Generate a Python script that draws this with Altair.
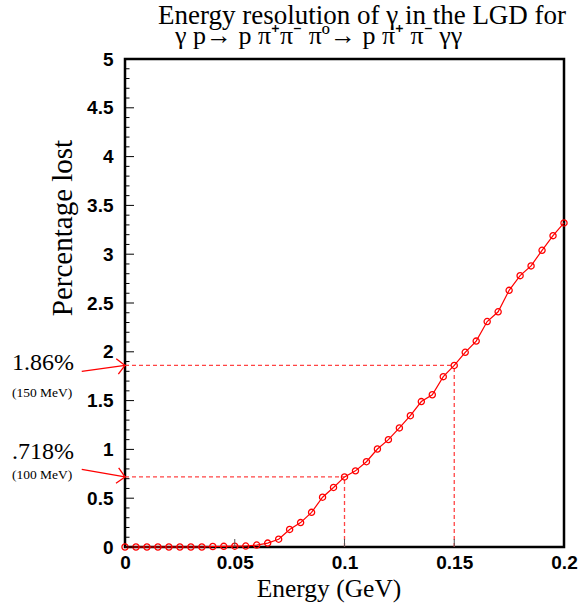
import altair as alt
import pandas as pd
import math

# ---- data ----
energy = [0.000, 0.005, 0.010, 0.015, 0.020, 0.025, 0.030, 0.035, 0.040, 0.045,
          0.050, 0.055, 0.060, 0.065, 0.070, 0.075, 0.080, 0.085, 0.090, 0.095,
          0.100, 0.105, 0.110, 0.115, 0.120, 0.125, 0.130, 0.135, 0.140, 0.145,
          0.150, 0.155, 0.160, 0.165, 0.170, 0.175, 0.180, 0.185, 0.190, 0.195,
          0.200]
loss = [0.0, 0.0, 0.0, 0.0, 0.0, 0.0, 0.0, 0.0, 0.005, 0.007,
        0.008, 0.01, 0.02, 0.04, 0.08, 0.18, 0.25, 0.355, 0.51, 0.61,
        0.718, 0.78, 0.874, 1.004, 1.10, 1.22, 1.345, 1.49, 1.56, 1.745,
        1.86, 1.995, 2.11, 2.31, 2.41, 2.63, 2.78, 2.88, 3.04, 3.19,
        3.32]

marked_energy = [0.10, 0.15]
marked_loss = [0.718, 1.86]
marked_pct = [".718%", "1.86%"]
marked_mev = ["(100 MeV)", "(150 MeV)"]
arrow_tail_energy = [-0.0197, -0.0197]
arrow_tail_loss = [0.795, 1.80]

x_ticks = [0, 0.05, 0.1, 0.15, 0.2]
x_inner_ticks = [0.05, 0.1, 0.15]
y_ticks = [0, 0.5, 1, 1.5, 2, 2.5, 3, 3.5, 4, 4.5, 5]
y_minor_ticks = [0.1, 0.2, 0.3, 0.4, 0.6, 0.7, 0.8, 0.9,
                 1.1, 1.2, 1.3, 1.4, 1.6, 1.7, 1.8, 1.9,
                 2.1, 2.2, 2.3, 2.4, 2.6, 2.7, 2.8, 2.9,
                 3.1, 3.2, 3.3, 3.4, 3.6, 3.7, 3.8, 3.9,
                 4.1, 4.2, 4.3, 4.4, 4.6, 4.7, 4.8, 4.9]

title_line1 = "Energy resolution of γ in the LGD for"
title_line2 = "γ p→ p π⁺π⁻ πº→ p π⁺ π⁻ γγ"
x_title = "Energy (GeV)"
y_title = "Percentage lost"

# ---- layout ----
W, H = 439, 488
X_DOM = [0, 0.2]
Y_DOM = [0, 5]
RED = "#ff0000"
DASH_RED = "#ff3030"
SERIF = "Liberation Serif"
SANS = "Liberation Sans"

xs = alt.Scale(domain=X_DOM, nice=False, zero=False)
ys = alt.Scale(domain=Y_DOM, nice=False, zero=False)

df = pd.DataFrame({"E": energy, "L": loss})
df_mark = pd.DataFrame({"E": marked_energy, "L": marked_loss, "Z": [0.0, 0.0]})

# arrow segments: shaft + two head wings (head built in pixel space)
px_per_x = W / (X_DOM[1] - X_DOM[0])
px_per_y = H / (Y_DOM[1] - Y_DOM[0])
segs = []
for tx, ty, hy in zip(arrow_tail_energy, arrow_tail_loss, marked_loss):
    hx = 0.0
    segs.append({"x": tx, "y": ty, "x2": hx, "y2": hy})
    dx = (tx - hx) * px_per_x
    dy = -(ty - hy) * px_per_y
    n = math.hypot(dx, dy)
    ux, uy = dx / n, dy / n
    for ang in (math.radians(45), -math.radians(45)):
        rx = ux * math.cos(ang) - uy * math.sin(ang)
        ry = ux * math.sin(ang) + uy * math.cos(ang)
        segs.append({"x": hx, "y": hy,
                     "x2": hx + rx * 11 / px_per_x,
                     "y2": hy - ry * 11 / px_per_y})
df_arrow = pd.DataFrame(segs)

main_line = alt.Chart(df).mark_line(color=RED, strokeWidth=1.2).encode(
    x=alt.X("E:Q", scale=xs, title=None,
            axis=alt.Axis(values=x_ticks, format="~g", title=None, ticks=False,
                          domain=False, grid=False, labelFont=SANS,
                          labelFontWeight="bold", labelFontSize=19,
                          labelColor="black", labelPadding=6,
                          labelFlush=False, labelOverlap=False)),
    y=alt.Y("L:Q", scale=ys, title=None,
            axis=alt.Axis(values=y_ticks, format="~g", title=None, ticks=False,
                          domain=False, grid=False, labelFont=SANS,
                          labelFontWeight="bold", labelFontSize=19,
                          labelColor="black", labelPadding=12,
                          labelOverlap=False)),
)

pts = alt.Chart(df).mark_point(shape="circle", filled=False, color=RED,
                               size=38, strokeWidth=1.3, opacity=1).encode(
    x=alt.X("E:Q", scale=xs), y=alt.Y("L:Q", scale=ys))

hlines = alt.Chart(df_mark).mark_rule(color=DASH_RED, strokeWidth=1.3, opacity=0.9,
                                      strokeDash=[4, 3]).encode(
    x=alt.X("Z:Q", scale=xs), x2="E:Q", y=alt.Y("L:Q", scale=ys))
vlines = alt.Chart(df_mark).mark_rule(color=DASH_RED, strokeWidth=1.3, opacity=0.9,
                                      strokeDash=[4, 3]).encode(
    x=alt.X("E:Q", scale=xs), y=alt.Y("Z:Q", scale=ys), y2="L:Q")

arrows = alt.Chart(df_arrow).mark_rule(color=RED, strokeWidth=1.3, clip=False).encode(
    x=alt.X("x:Q", scale=xs), y=alt.Y("y:Q", scale=ys), x2="x2:Q", y2="y2:Q")

ytk = alt.Chart(pd.DataFrame({"v": y_ticks})).mark_rule(color="black", strokeWidth=1).encode(
    y=alt.Y("v:Q", scale=ys), x=alt.value(0), x2=alt.value(9))
ytk_minor = alt.Chart(pd.DataFrame({"v": y_minor_ticks})).mark_rule(color="black", strokeWidth=1).encode(
    y=alt.Y("v:Q", scale=ys), x=alt.value(0), x2=alt.value(4.5))
xtk = alt.Chart(pd.DataFrame({"v": x_inner_ticks})).mark_rule(color="#555555", strokeWidth=1).encode(
    x=alt.X("v:Q", scale=xs), y=alt.value(H), y2=alt.value(H - 8))


def label(txt, x, y, size, align="left", baseline="middle", angle=0, font=SERIF):
    return alt.Chart(pd.DataFrame({"t": [txt]})).mark_text(
        font=font, fontSize=size, align=align, baseline=baseline, angle=angle,
        color="black").encode(text="t:N", x=alt.value(x), y=alt.value(y))


texts = [
    label(title_line1, 33, -35, 27, baseline="alphabetic"),
    label(title_line2, 50, -15, 26, baseline="alphabetic"),
    label(x_title, 204, H + 50, 25.5, align="center", baseline="alphabetic"),
    label(y_title, -62, 169, 29, align="center", baseline="middle", angle=270),
    label(marked_pct[1], -113, 304, 24),
    label(marked_mev[1], -113, 334, 13.5),
    label(marked_pct[0], -113, 392.5, 24),
    label(marked_mev[0], -113, 416, 13.5),
]

chart = alt.layer(hlines, vlines, main_line, pts, ytk, ytk_minor, xtk, arrows, *texts).properties(
    width=W, height=H,
    padding={"left": 125, "top": 59, "right": 18, "bottom": 60},
    autosize=alt.AutoSizeParams(type="none"),
    background="white",
).configure_view(stroke="black", strokeWidth=2.5)

chart.save("out.html", embed_options={"renderer": "svg", "actions": False})
